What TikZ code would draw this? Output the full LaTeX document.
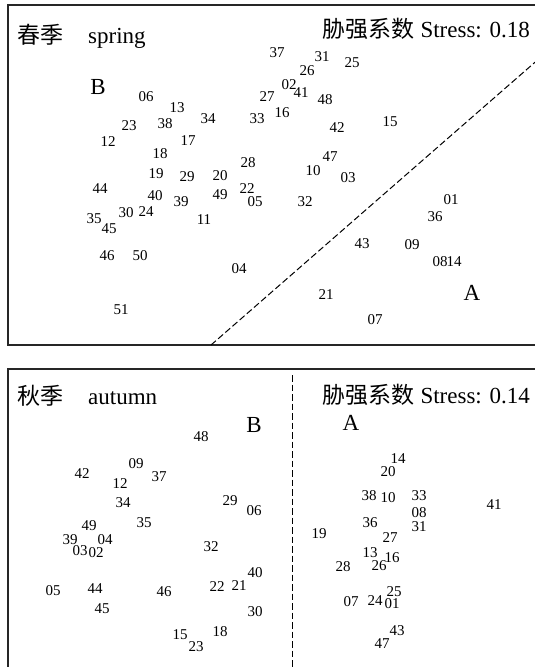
\documentclass[tikz,border=0pt]{standalone}
\usepackage{fontspec}
\setmainfont{Liberation Serif}
\newfontfamily\cjk{Noto Sans CJK SC}
\begin{document}
\begin{tikzpicture}[x=1pt,y=-1pt,
  num/.style={inner sep=0pt,font=\fontsize{15}{17}\selectfont},
  big/.style={inner sep=0pt,font=\fontsize{23}{26}\selectfont},
  frame/.style={line width=1.2pt,black!85},
  divider/.style={line width=1pt,dash pattern=on 6.5pt off 3pt}]
\useasboundingbox (0,0) rectangle (535,667);
\clip (0,0) rectangle (535,667);
% ---------- spring panel ----------
\draw[frame] (545,5) -- (8,5) -- (8,345) -- (545,345);
\node[big,anchor=base west] (t1c) at (17,43) {\cjk 春季};
\node[big,anchor=base west] (t1e) at (88,43) {spring};
\node[big,anchor=base east] (t1s) at (530,37) {{\cjk 胁强系数} Stress: 0.18};
\node[big] (sB) at (98,87) {B};
\node[big] (sA) at (472,293) {A};
\coordinate (d1a) at (211,345);
\coordinate (d1b) at (541,57);
\draw[divider] (d1a) -- (d1b);
\foreach \n/\x/\y in {
 37/277/53, 31/322/57, 26/307/71, 25/352/63, 02/289/85, 41/301/93,
 27/267/97, 48/325/100, 16/282/113, 33/257/119, 34/208/119, 42/337/128,
 15/390/122, 17/188/141, 47/330/157, 10/313/171, 03/348/178, 28/248/163,
 20/220/176, 29/187/177, 49/220/195, 22/247/189, 05/255/202, 32/305/202,
 11/204/220, 06/146/97, 13/177/108, 23/129/126, 38/165/124, 12/108/142,
 18/160/154, 19/156/174, 44/100/189, 40/155/196, 39/181/202, 35/94/219,
 45/109/229, 30/126/213, 24/146/212, 46/107/256, 50/140/256, 04/239/269,
 51/121/310, 01/451/200, 36/435/217, 43/362/244, 09/412/245, 08/440/262,
 14/454/262, 21/326/295, 07/375/320}
 \node[num] (s\n) at (\x,\y) {\n};
% ---------- autumn panel ----------
\draw[frame] (8,680) -- (8,369) -- (545,369);
\node[big,anchor=base west] (t2c) at (17,404) {\cjk 秋季};
\node[big,anchor=base west] (t2e) at (88,404) {autumn};
\node[big,anchor=base east] (t2s) at (530,403) {{\cjk 胁强系数} Stress: 0.14};
\node[big] (aB) at (254,425) {B};
\node[big] (aA) at (351,423) {A};
\coordinate (d2a) at (292,375);
\coordinate (d2b) at (292,680);
\draw[divider] (d2a) -- (d2b);
\foreach \n/\x/\y in {
 48/201/437, 09/136/464, 42/82/474, 37/159/477, 12/120/484, 34/123/503,
 29/230/501, 06/254/511, 32/211/547, 40/255/573, 22/217/587, 21/239/586,
 46/164/592, 30/255/612, 15/180/635, 18/220/632, 23/196/647, 35/144/523,
 49/89/526, 39/70/540, 04/105/540, 03/80/551, 02/96/553, 05/53/591,
 44/95/589, 45/102/609,
 19/319/534, 28/343/567, 14/398/459, 20/388/472, 38/369/496, 10/388/498,
 33/419/496, 08/419/513, 31/419/527, 41/494/505, 36/370/523, 27/390/538,
 13/370/553, 16/392/558, 26/379/566, 25/394/592, 07/351/602, 24/375/601,
 01/392/604, 43/397/631, 47/382/644}
 \node[num] (a\n) at (\x,\y) {\n};
\end{tikzpicture}
\end{document}
